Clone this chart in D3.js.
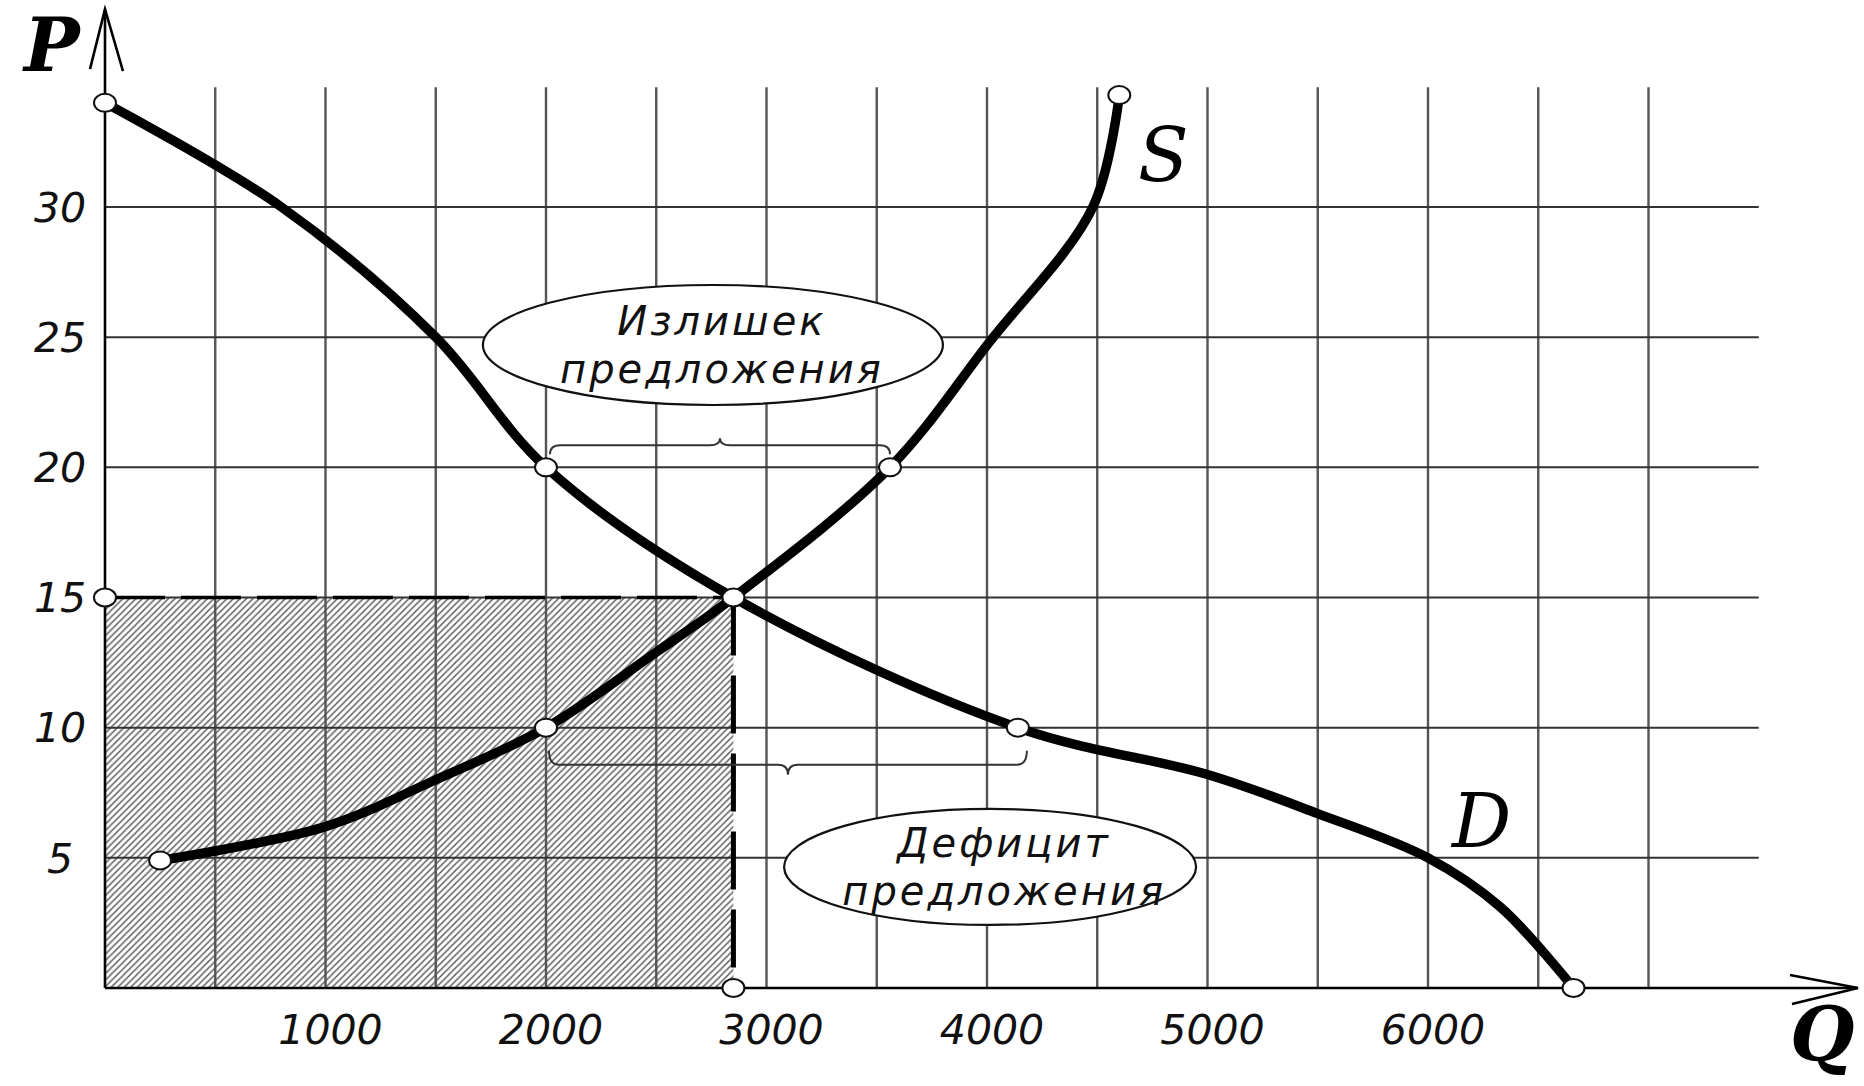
<!DOCTYPE html>
<html>
<head>
<meta charset="UTF-8">
<title>Излишек и дефицит предложения</title>
<script src="https://cdn.jsdelivr.net/npm/d3@7/dist/d3.min.js"></script>
<style type="text/css">
body { margin: 0; background: #fff; }
svg { display: block; }
.tick-label { font: italic 41px "DejaVu Sans", sans-serif; fill: #111; }
.note { font: italic 40px "DejaVu Sans", sans-serif; fill: #111; letter-spacing: 3px; }
.letter { font-family: "DejaVu Serif", serif; font-style: italic; font-size: 74px; fill: #000; }
</style>
</head>
<body>
<div class="chart"></div>
<script>
// tick labels and grid
var qTicks = [1000, 2000, 3000, 4000, 5000, 6000];
var pTicks = [5, 10, 15, 20, 25, 30];
var qGrid  = [500, 1000, 1500, 2000, 2500, 3000, 3500, 4000, 4500, 5000, 5500, 6000, 6500, 7000];

// demand curve D
var demandQ = [0, 800, 1500, 2000, 2850, 4140, 5000, 5500, 6000, 6330, 6660];
var demandP = [34, 30, 25, 20, 15, 10, 8.2, 6.7, 5, 3.1, 0];

// supply curve S
var supplyQ = [250, 1000, 1500, 2000, 2500, 2850, 3560, 4010, 4480, 4600];
var supplyP = [4.9, 6.2, 8, 10, 12.9, 15, 20, 24.8, 30, 34.3];

// open circles
var dotQ = [0, 2000, 4140, 6660, 250, 2000, 3560, 4600, 2850, 0, 2850];
var dotP = [34, 20, 10, 0, 4.9, 10, 20, 34.3, 15, 15, 0];

// equilibrium
var eqQ = 2850, eqP = 15;

// surplus at P = 20, shortage at P = 10
var surplusP = 20, surplusQ = [2000, 3560];
var shortageP = 10, shortageQ = [2000, 4140];

var noteSurplus  = ["Излишек", "предложения"];
var noteShortage = ["Дефицит", "предложения"];

var width = 1864, height = 1086;

var x = d3.scaleLinear().domain([0, 6000]).range([105, 1428]);
var y = d3.scaleLinear().domain([0, 30]).range([988, 207]);

var svg = d3.select(".chart").append("svg")
    .attr("width", width)
    .attr("height", height);

svg.append("rect").attr("width", width).attr("height", height).attr("fill", "#fff");

var pat = svg.append("defs").append("pattern")
    .attr("id", "hatch")
    .attr("patternUnits", "userSpaceOnUse")
    .attr("width", 6.5).attr("height", 6.5);
pat.append("path")
    .attr("d", "M0,6.5 L6.5,0 M-1.5,1.5 L1.5,-1.5 M5,8 L8,5")
    .attr("stroke", "#666").attr("stroke-width", 1.5);

// hatched area under the equilibrium
svg.append("rect")
    .attr("x", x(0)).attr("y", y(eqP))
    .attr("width", x(eqQ) - x(0)).attr("height", y(0) - y(eqP))
    .attr("fill", "url(#hatch)");

// grid
svg.append("g").selectAll("line")
    .data(qGrid).enter().append("line")
    .attr("x1", function (d) { return x(d); })
    .attr("x2", function (d) { return x(d); })
    .attr("y1", y(0)).attr("y2", y(34.6))
    .attr("stroke", "#555").attr("stroke-width", 2.4);

svg.append("g").selectAll("line")
    .data(pTicks).enter().append("line")
    .attr("x1", x(0)).attr("x2", x(7500))
    .attr("y1", function (d) { return y(d); })
    .attr("y2", function (d) { return y(d); })
    .attr("stroke", "#333").attr("stroke-width", 2);

// axes with open arrows
var axes = svg.append("g").attr("stroke", "#000").attr("stroke-width", 2.6).attr("fill", "none");
var tipY = y(37.6), tipX = x(7950);
axes.append("line").attr("x1", x(0)).attr("x2", x(0)).attr("y1", y(0)).attr("y2", tipY);
axes.append("path").attr("d", "M" + (x(0) - 15) + "," + (tipY + 60) + "L" + x(0) + "," + tipY + "L" + (x(0) + 18) + "," + (tipY + 62));
axes.append("line").attr("x1", x(0)).attr("x2", tipX).attr("y1", y(0)).attr("y2", y(0));
axes.append("path").attr("d", "M" + (tipX - 68) + "," + (y(0) - 13) + "L" + tipX + "," + y(0) + "L" + (tipX - 66) + "," + (y(0) + 16));

// tick labels
svg.append("g").selectAll("text")
    .data(pTicks).enter().append("text")
    .attr("class", "tick-label")
    .attr("x", 60)
    .attr("y", function (d) { return y(d); })
    .attr("dy", "0.36em")
    .attr("text-anchor", "middle")
    .text(function (d) { return d; });

svg.append("g").selectAll("text")
    .data(qTicks).enter().append("text")
    .attr("class", "tick-label")
    .attr("x", function (d) { return x(d) + 5; })
    .attr("y", 1044)
    .attr("text-anchor", "middle")
    .text(function (d) { return d; });

// dashed equilibrium lines
svg.append("line")
    .attr("x1", x(0)).attr("x2", x(eqQ))
    .attr("y1", y(eqP)).attr("y2", y(eqP))
    .attr("stroke", "#000").attr("stroke-width", 3.5)
    .attr("stroke-dasharray", "60,16");
svg.append("line")
    .attr("x1", x(eqQ)).attr("x2", x(eqQ))
    .attr("y1", y(eqP)).attr("y2", y(0))
    .attr("stroke", "#000").attr("stroke-width", 5)
    .attr("stroke-dasharray", "58,20");

// braces
function brace(x1, x2, y0, hook, notch) {
    var xm = (x1 + x2) / 2;
    return "M" + x1 + "," + (y0 + hook) +
        "Q" + x1 + "," + y0 + " " + (x1 + 10) + "," + y0 +
        "L" + (xm - 10) + "," + y0 +
        "Q" + xm + "," + y0 + " " + xm + "," + (y0 + notch) +
        "Q" + xm + "," + y0 + " " + (xm + 10) + "," + y0 +
        "L" + (x2 - 10) + "," + y0 +
        "Q" + x2 + "," + y0 + " " + x2 + "," + (y0 + hook);
}
svg.append("path")
    .attr("d", brace(x(surplusQ[0]) + 4, x(surplusQ[1]), y(surplusP) - 22, 9, -7))
    .attr("fill", "none").attr("stroke", "#333").attr("stroke-width", 2);
svg.append("path")
    .attr("d", brace(x(shortageQ[0]) + 3, x(shortageQ[1]) + 9, y(shortageP) + 37, -14, 10))
    .attr("fill", "none").attr("stroke", "#333").attr("stroke-width", 2);

// notes in ellipses
function note(cq, cp, rx, ry, lines, dx) {
    var g = svg.append("g");
    g.append("ellipse")
        .attr("cx", x(cq)).attr("cy", y(cp))
        .attr("rx", rx).attr("ry", ry)
        .attr("fill", "#fff").attr("stroke", "#111").attr("stroke-width", 2.2);
    var t = g.append("text")
        .attr("class", "note")
        .attr("text-anchor", "middle");
    t.selectAll("tspan").data(lines).enter().append("tspan")
        .attr("x", x(cq) + dx)
        .attr("y", function (d, i) { return y(cp) - 10 + i * 48; })
        .text(function (d) { return d; });
}
note(2757, 24.7, 230, 60, noteSurplus, 9);
note(4014, 4.65, 206, 58, noteShortage, 14);

// curves
var line = d3.line()
    .x(function (d) { return x(d[0]); })
    .y(function (d) { return y(d[1]); })
    .curve(d3.curveCatmullRom.alpha(0.5));

svg.append("path")
    .datum(d3.zip(demandQ, demandP))
    .attr("d", line)
    .attr("fill", "none").attr("stroke", "#000").attr("stroke-width", 9.5)
    .attr("stroke-linecap", "round").attr("stroke-linejoin", "round");

svg.append("path")
    .datum(d3.zip(supplyQ, supplyP))
    .attr("d", line)
    .attr("fill", "none").attr("stroke", "#000").attr("stroke-width", 9.5)
    .attr("stroke-linecap", "round").attr("stroke-linejoin", "round");

// open circles
svg.append("g").selectAll("ellipse")
    .data(d3.zip(dotQ, dotP)).enter().append("ellipse")
    .attr("cx", function (d) { return x(d[0]); })
    .attr("cy", function (d) { return y(d[1]); })
    .attr("rx", 11).attr("ry", 9)
    .attr("fill", "#fff").attr("stroke", "#111").attr("stroke-width", 2);

// axis and curve letters
svg.append("text").attr("class", "letter").attr("font-weight", "bold")
    .attr("x", 24).attr("y", 71).text("P");
svg.append("text").attr("class", "letter").attr("font-weight", "bold")
    .attr("x", 1790).attr("y", 1060).text("Q");
svg.append("text").attr("class", "letter")
    .attr("x", 1138).attr("y", 181).text("S");
svg.append("text").attr("class", "letter")
    .attr("x", 1452).attr("y", 847).text("D");
</script>
</body>
</html>
